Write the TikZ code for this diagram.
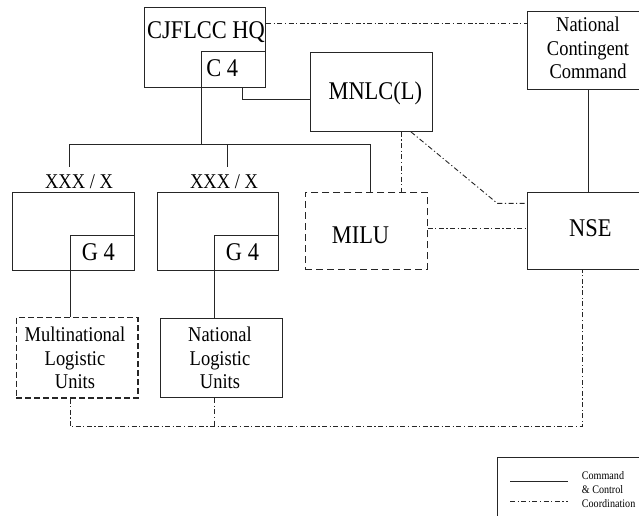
\documentclass[tikz,border=0pt]{standalone}
\usepackage{fontspec}
\setmainfont{Liberation Serif}[FakeStretch=0.88]
\begin{document}
\begin{tikzpicture}[x=1pt,y=-1pt,
  box/.style={draw=black!85, line width=0.9pt, inner sep=0pt, anchor=north west},
  dashbox/.style={box, dash pattern=on 7pt off 4pt},
  thickdash/.style={box, line width=1.4pt, dash pattern=on 6pt off 3pt},
  big/.style={font=\fontsize{25.5}{28}\selectfont, inner sep=0pt},
  mid/.style={font=\fontsize{21}{23.5}\selectfont, inner sep=0pt, align=center},
  small/.style={font=\fontsize{11.5}{14}\selectfont, inner sep=0pt, align=left},
  cmd/.style={draw=black!85, line width=0.9pt},
  coord/.style={draw=black!85, line width=0.9pt, dash pattern=on 5pt off 2.5pt on 1.2pt off 2.5pt}
]
\useasboundingbox (0,0) rectangle (639,516);

% headquarters and its C4 cell
\node[box, minimum width=121.6pt, minimum height=79.4pt] (hq) at (143.7,7.3) {};
\node[box, minimum width=64.3pt, minimum height=35.7pt] (c4) at (201,51) {};
\node[big, anchor=base] (hqt) at (206,39) {CJFLCC HQ};
\node[big, anchor=base] (c4t) at (222.3,76.7) {C 4};

% MNLC(L)
\node[box, minimum width=122pt, minimum height=78.7pt] (mnlc) at (310,52.3) {};
\node[big, anchor=base] (mnlct) at (375.3,99.5) {MNLC(L)};

% national contingent command and NSE
\node[box, minimum width=113pt, minimum height=78.6pt] (ncc) at (527.3,10.7) {};
\node[mid] (ncct) at (588,48.2) {National\\Contingent\\Command};
\node[box, minimum width=113pt, minimum height=77.6pt] (nse) at (527.3,191.7) {};
\node[big, anchor=base] (nset) at (590.3,236.7) {NSE};

% MILU
\node[dashbox, minimum width=121.7pt, minimum height=77.6pt] (milu) at (305,191.7) {};
\node[big, anchor=base] (milut) at (360.5,243.3) {MILU};

% XXX / X formations with G4 cells
\node[box, minimum width=121.7pt, minimum height=78.3pt] (xl) at (12,191.7) {};
\node[box, minimum width=63.7pt, minimum height=35pt] (g4l) at (70,235) {};
\node[mid, anchor=base] (xlt) at (79,188.3) {XXX / X};
\node[big, anchor=base] (g4lt) at (98.3,260) {G 4};

\node[box, minimum width=121.6pt, minimum height=78.3pt] (xr) at (156.7,191.7) {};
\node[box, minimum width=64pt, minimum height=35pt] (g4r) at (214.3,235) {};
\node[mid, anchor=base] (xrt) at (224,188.3) {XXX / X};
\node[big, anchor=base] (g4rt) at (242.5,260) {G 4};

% logistic units
\node[thickdash, minimum width=121.6pt, minimum height=80.6pt] (mlu) at (15.7,316.7) {};
\node[mid] (mlut) at (75,358) {Multinational\\Logistic\\Units};
\node[box, minimum width=121.4pt, minimum height=79.6pt] (nlu) at (160.3,317.7) {};
\node[mid] (nlut) at (220,358) {National\\Logistic\\Units};

% legend
\node[box, minimum width=145pt, minimum height=60pt] (leg) at (496.7,457.3) {};
\node[small, anchor=west] (legt) at (581.7,490) {Command\\\& Control\\Coordination};
\coordinate (ls1) at (510,481);
\coordinate (le1) at (568,481);
\coordinate (ls2) at (510,501);
\coordinate (le2) at (568,501);
\draw[cmd] (ls1) -- (le1);
\draw[coord] (ls2) -- (le2);

% command and control lines
\coordinate (bus) at (69,144);
\coordinate (busr) at (370,144);
\coordinate (dl) at (69,167);
\coordinate (dr) at (227,167);
\draw[cmd] (c4.south west) -- (c4.south west |- bus);
\draw[cmd] (bus) -- (busr) -- (busr |- milu.north);
\draw[cmd] (bus) -- (dl);
\draw[cmd] (dr |- bus) -- (dr);
\draw[cmd] ([xshift=8.4pt]c4.south) |- (mnlc.west |- 0,99);
\draw[cmd] (ncc.south -| 588.3,0) -- (nse.north -| 588.3,0);
\draw[cmd] (g4l.south west) -- (g4l.south west |- mlu.north);
\draw[cmd] (g4r.south west) -- (g4r.south west |- nlu.north);

% coordination lines
\draw[coord] (hq.east |- 0,23.3) -- (ncc.west |- 0,23.3);
\draw[coord] (mnlc.south -| 401.7,0) -- (milu.north -| 401.7,0);
\coordinate (bend) at (497.3,203.3);
\draw[coord] (mnlc.south -| 411,0) -- (bend) -- (nse.west |- bend);
\draw[coord] (milu.east |- 0,228.3) -- (nse.west |- 0,228.3);
\coordinate (bl) at (70,426.7);
\coordinate (br) at (582.3,426.7);
\draw[coord] (mlu.south -| bl) -- (bl) -- (br) -- (nse.south -| br);
\draw[coord] (nlu.south -| g4r.south west) -- (g4r.south west |- bl);
\end{tikzpicture}
\end{document}
